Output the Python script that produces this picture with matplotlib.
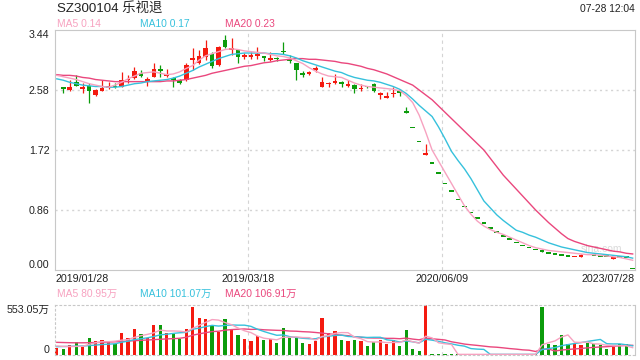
import numpy as np
import matplotlib
matplotlib.use('Agg')
import matplotlib.pyplot as plt

plt.rcParams['font.family'] = ['Liberation Sans', 'Noto Sans CJK SC', 'DejaVu Sans']

UP = '#f41a10'
DOWN = '#0c9c0c'
C_MA5 = '#f7a2c0'
C_MA10 = '#36c1dc'
C_MA20 = '#ea477d'
TXT = '#222222'
GRID = '#d4d4d4'
FRAME = '#c8c8c8'

# one entry per session, first one sits under the left frame in the original
opens = [2.58, 2.63, 2.58, 2.70, 2.60, 2.64, 2.51, 2.57, 2.61, 2.64,
         2.62, 2.72, 2.75, 2.83, 2.71, 2.77, 2.86, 2.78, 2.74, 2.72,
         2.72, 3.01, 2.96, 3.06, 3.10, 2.94, 3.30, 3.15, 3.16, 3.06,
         3.06, 3.07, 3.05, 3.01, 3.03, 3.13, 3.02, 2.96, 2.83, 2.81,
         2.87, 2.63, 2.66, 2.68, 2.70, 2.64, 2.65, 2.59, 2.63, 2.67,
         2.51, 2.47, 2.52, 2.57, 2.27, 2.03, 1.83, 1.65, 1.52, 1.38,
         1.23, 1.12, 1.00, 0.90, 0.81, 0.73, 0.66, 0.59, 0.53, 0.48,
         0.43, 0.38, 0.34, 0.31, 0.28, 0.27, 0.23, 0.215, 0.205, 0.19,
         0.18, 0.19, 0.22, 0.20, 0.19, 0.186, 0.16, 0.175, 0.175, 0.01]
highs = [2.64, 2.63, 2.73, 2.80, 2.68, 2.68, 2.60, 2.73, 2.69, 2.68,
         2.84, 2.80, 2.91, 2.87, 2.76, 2.96, 2.94, 2.88, 2.77, 2.74,
         2.96, 3.18, 3.15, 3.30, 3.13, 3.21, 3.37, 3.32, 3.17, 3.11,
         3.12, 3.19, 3.06, 3.13, 3.05, 3.27, 3.08, 2.97, 2.85, 2.85,
         2.92, 2.76, 2.70, 2.81, 2.71, 2.72, 2.66, 2.66, 2.64, 2.68,
         2.55, 2.55, 2.63, 2.58, 2.34, 2.03, 1.83, 1.80, 1.52, 1.38,
         1.23, 1.12, 1.00, 0.90, 0.81, 0.73, 0.66, 0.59, 0.53, 0.48,
         0.43, 0.38, 0.34, 0.31, 0.28, 0.30, 0.23, 0.215, 0.205, 0.19,
         0.19, 0.23, 0.22, 0.20, 0.19, 0.186, 0.17, 0.175, 0.175, 0.01]
lows = [2.57, 2.54, 2.57, 2.64, 2.54, 2.39, 2.50, 2.56, 2.60, 2.61,
        2.62, 2.68, 2.74, 2.76, 2.64, 2.77, 2.77, 2.77, 2.62, 2.67,
        2.71, 2.87, 2.95, 3.01, 2.90, 2.93, 3.18, 3.08, 2.96, 3.02,
        3.02, 3.03, 3.00, 2.99, 2.99, 3.10, 2.96, 2.73, 2.76, 2.80,
        2.84, 2.63, 2.63, 2.66, 2.62, 2.62, 2.53, 2.56, 2.61, 2.55,
        2.45, 2.47, 2.48, 2.49, 2.25, 2.03, 1.83, 1.65, 1.52, 1.38,
        1.23, 1.12, 1.00, 0.90, 0.81, 0.73, 0.66, 0.59, 0.53, 0.48,
        0.43, 0.38, 0.34, 0.31, 0.28, 0.26, 0.23, 0.215, 0.205, 0.19,
        0.18, 0.19, 0.21, 0.20, 0.19, 0.186, 0.16, 0.17, 0.17, 0.01]
closes = [2.62, 2.60, 2.63, 2.64, 2.63, 2.56, 2.58, 2.61, 2.62, 2.62,
          2.73, 2.73, 2.85, 2.78, 2.72, 2.88, 2.85, 2.80, 2.73, 2.68,
          2.94, 3.02, 3.07, 3.18, 2.92, 3.20, 3.19, 3.18, 3.05, 3.07,
          3.07, 3.08, 3.04, 3.02, 3.02, 3.12, 2.99, 2.87, 2.79, 2.83,
          2.88, 2.70, 2.67, 2.71, 2.66, 2.65, 2.60, 2.60, 2.62, 2.56,
          2.52, 2.48, 2.53, 2.53, 2.25, 2.03, 1.83, 1.67, 1.52, 1.38,
          1.23, 1.12, 1.00, 0.90, 0.81, 0.73, 0.66, 0.59, 0.53, 0.48,
          0.43, 0.38, 0.34, 0.31, 0.28, 0.26, 0.23, 0.215, 0.205, 0.19,
          0.19, 0.205, 0.21, 0.20, 0.19, 0.186, 0.17, 0.17, 0.17, 0.01]

ma5 = [2.79, 2.77, 2.75, 2.73, 2.70, 2.67, 2.65, 2.63, 2.62, 2.65,
       2.69, 2.74, 2.78, 2.82, 2.83, 2.84, 2.82, 2.80, 2.81, 2.84,
       2.89, 2.93, 3.01, 3.07, 3.10, 3.13, 3.16, 3.17, 3.16, 3.14,
       3.13, 3.12, 3.11, 3.09, 3.07, 3.06, 3.04, 3.00, 2.96, 2.90,
       2.85, 2.81, 2.78, 2.77, 2.76, 2.72, 2.68, 2.65, 2.63, 2.62,
       2.61, 2.60, 2.59, 2.57, 2.50, 2.40, 2.22, 1.98, 1.72, 1.56,
       1.40, 1.24, 1.08, 0.92, 0.80, 0.70, 0.63, 0.58, 0.54, 0.51,
       0.47, 0.43, 0.39, 0.35, 0.32, 0.30, 0.28, 0.27, 0.26, 0.25,
       0.24, 0.23, 0.22, 0.22, 0.21, 0.20, 0.19, 0.18, 0.16, 0.14]
ma10 = [2.74, 2.72, 2.69, 2.67, 2.65, 2.64, 2.63, 2.63, 2.62, 2.62,
        2.63, 2.65, 2.67, 2.68, 2.70, 2.71, 2.72, 2.73, 2.75, 2.78,
        2.82, 2.86, 2.91, 2.95, 2.99, 3.03, 3.06, 3.09, 3.10, 3.11,
        3.11, 3.11, 3.11, 3.10, 3.10, 3.09, 3.07, 3.04, 3.00, 2.97,
        2.94, 2.91, 2.88, 2.85, 2.83, 2.79, 2.76, 2.74, 2.72, 2.71,
        2.69, 2.66, 2.63, 2.59, 2.53, 2.45, 2.36, 2.28, 2.20, 2.05,
        1.88, 1.70, 1.57, 1.45, 1.31, 1.15, 0.99, 0.89, 0.79, 0.71,
        0.64, 0.57, 0.54, 0.50, 0.47, 0.43, 0.39, 0.36, 0.33, 0.31,
        0.29, 0.27, 0.25, 0.24, 0.23, 0.22, 0.21, 0.20, 0.19, 0.17]
ma20 = [2.80, 2.79, 2.79, 2.78, 2.76, 2.75, 2.73, 2.72, 2.71, 2.70,
        2.70, 2.70, 2.70, 2.70, 2.70, 2.70, 2.70, 2.71, 2.71, 2.72,
        2.73, 2.75, 2.77, 2.79, 2.82, 2.84, 2.86, 2.88, 2.90, 2.92,
        2.93, 2.95, 2.97, 2.98, 3.00, 3.01, 3.02, 3.03, 3.03, 3.02,
        3.02, 3.01, 3.00, 2.99, 2.97, 2.96, 2.94, 2.92, 2.89, 2.87,
        2.84, 2.81, 2.77, 2.73, 2.69, 2.65, 2.58, 2.51, 2.44, 2.35,
        2.26, 2.17, 2.08, 1.99, 1.90, 1.81, 1.72, 1.60, 1.48, 1.36,
        1.26, 1.16, 1.06, 0.96, 0.86, 0.77, 0.68, 0.60, 0.52, 0.45,
        0.41, 0.38, 0.35, 0.33, 0.31, 0.29, 0.27, 0.26, 0.24, 0.23]

# volume in 万 shares
volume = [74, 63, 111, 140, 92, 184, 155, 166, 140, 118,
          243, 184, 288, 232, 192, 332, 332, 240, 232, 181,
          288, 531, 409, 398, 332, 258, 398, 288, 221, 177,
          155, 210, 166, 177, 133, 299, 203, 195, 136, 125,
          159, 409, 240, 265, 166, 155, 166, 155, 100, 140,
          166, 125, 166, 100, 277, 66, 44, 553.05, 7, 7,
          7, 7, 7, 7, 7, 7, 7, 7, 7, 7,
          7, 7, 7, 7, 7, 535, 122, 111, 221, 122,
          129, 111, 136, 118, 111, 66, 92, 125, 118, 4]
vol_ma5 = [100, 95, 93, 95, 96, 118, 136, 147, 147, 153,
           164, 170, 195, 213, 228, 246, 275, 266, 266, 263,
           255, 294, 328, 361, 392, 386, 359, 335, 299, 268,
           248, 210, 186, 177, 168, 197, 196, 201, 193, 192,
           164, 205, 214, 240, 248, 247, 198, 181, 148, 143,
           145, 137, 139, 139, 167, 147, 131, 208, 189, 135,
           124, 116, 7, 7, 7, 7, 7, 7, 7, 7,
           7, 7, 7, 7, 7, 113, 136, 156, 199, 222,
           141, 139, 144, 123, 121, 108, 105, 102, 102, 81]
vol_ma10 = [92, 94, 96, 98, 100, 104, 110, 116, 120, 124,
            141, 153, 171, 180, 190, 205, 223, 230, 239, 246,
            250, 285, 297, 314, 328, 320, 327, 332, 330, 330,
            317, 285, 260, 238, 218, 222, 203, 194, 185, 180,
            180, 200, 208, 216, 220, 205, 202, 198, 194, 196,
            196, 168, 160, 144, 155, 146, 134, 174, 164, 151,
            135, 123, 108, 98, 71, 65, 62, 7, 7, 7,
            7, 7, 7, 7, 7, 60, 71, 82, 103, 115,
            127, 137, 150, 161, 172, 125, 122, 123, 113, 101]
vol_ma20 = [140, 138, 136, 135, 135, 136, 138, 140, 143, 146,
            150, 154, 158, 162, 166, 170, 174, 178, 181, 185,
            196, 219, 234, 247, 259, 263, 275, 281, 285, 288,
            283, 285, 279, 276, 273, 271, 265, 263, 258, 255,
            249, 242, 234, 227, 219, 214, 202, 196, 190, 188,
            188, 184, 184, 180, 187, 176, 168, 186, 179, 173,
            166, 146, 134, 121, 113, 106, 98, 90, 86, 79,
            71, 65, 57, 53, 39, 63, 66, 44, 55, 61,
            67, 72, 79, 84, 89, 92, 97, 102, 108, 107]

price_ticks = [0.00, 0.86, 1.72, 2.58, 3.44]
vol_top = 553.05
date_labels = ['2019/01/28', '2019/03/18', '2020/06/09', '2023/07/28']
title = 'SZ300104 乐视退'
stamp = '07-28 12:04'

W, H = 640, 360


def fx(x):
    return x / W


def fy(y):
    return 1 - y / H


o = np.array(opens)
c = np.array(closes)
prev = np.r_[c[0], c[:-1]]
up = (c > o) | ((c == o) & (c >= prev))
colors = np.where(up, UP, DOWN)
idx = np.arange(len(closes))

xlim = (-0.28, 89.36)

fig = plt.figure(figsize=(6.4, 3.6), dpi=100)
ax = fig.add_axes([fx(55), fy(270), 580 / W, 240 / H])
axv = fig.add_axes([fx(55), fy(355), 580 / W, 50 / H])

# price panel
k = idx[1:]
body_lo = np.minimum(o, c)[1:]
body_h = np.maximum(np.abs(c - o)[1:], 0.024)
ax.vlines(k, np.array(lows)[1:], np.array(highs)[1:], colors=colors[1:], lw=0.9, zorder=2)
ax.bar(k, body_h, bottom=body_lo, width=0.72, color=colors[1:], lw=0, zorder=3)
ax.plot(idx, ma20, color=C_MA20, lw=1.0, zorder=4)
ax.plot(idx, ma10, color=C_MA10, lw=1.0, zorder=4)
ax.plot(idx, ma5, color=C_MA5, lw=1.0, zorder=4)

ax.set_xlim(*xlim)
ax.set_ylim(0, 3.44)
ax.set_yticks(price_ticks)
ax.set_yticklabels([f'{v:.2f}' for v in price_ticks])
for v in price_ticks[1:-1]:
    ax.axhline(v, color=GRID, lw=1.0, ls=(0, (1.5, 2.5)), zorder=1)
span = xlim[1] - xlim[0]
xt = [xlim[0] + span * f for f in (0, 1 / 3, 2 / 3, 1)]
for x in xt[1:3]:
    ax.axvline(x, color=GRID, lw=0.8, ls=(0, (3, 3)), zorder=1)
ax.set_xticks(xt)
ax.set_xticklabels(date_labels)
ax.tick_params(length=0, labelsize=7.7, colors=TXT, pad=3)
ax.tick_params(axis='y', pad=4)
tl = ax.get_yticklabels()
tl[0].set_va('bottom')
tl[-1].set_va('top')
xl = ax.get_xticklabels()
xl[0].set_ha('left')
xl[-1].set_ha('right')
for s in ax.spines.values():
    s.set_color(FRAME)
    s.set_linewidth(0.8)
ax.text(0.943, 0.088, 'sina.com', transform=ax.transAxes, ha='center', va='center',
        fontsize=7.5, color='#dadada', zorder=0)

# volume panel
axv.bar(idx, volume, width=0.5, color=colors, lw=0, zorder=2)
axv.plot(idx, vol_ma20, color=C_MA20, lw=1.0, zorder=3)
axv.plot(idx, vol_ma10, color=C_MA10, lw=1.0, zorder=3)
axv.plot(idx, vol_ma5, color=C_MA5, lw=1.0, zorder=3)
axv.set_xlim(*xlim)
axv.set_ylim(0, vol_top)
axv.set_yticks([0, vol_top])
axv.set_yticklabels(['0', f'{vol_top:.2f}万'])
axv.set_xticks([])
for x in xt[1:3]:
    axv.axvline(x, color=GRID, lw=0.8, ls=(0, (3, 3)), zorder=1)
axv.tick_params(length=0, labelsize=7.7, colors=TXT, pad=4)
vl = axv.get_yticklabels()
vl[0].set_va('bottom')
vl[1].set_va('top')
for name, s in axv.spines.items():
    s.set_color(FRAME)
    s.set_linewidth(0.8)
    if name != 'right':
        s.set_linestyle((0, (1.5, 2.5)))

# header texts
fig.text(fx(57), fy(9), title, fontsize=9.6, color=TXT, ha='left', va='center')
fig.text(fx(635), fy(9), stamp, fontsize=7.4, color=TXT, ha='right', va='center')
legend = [(57, f'MA5 {ma5[-1]:.2f}', C_MA5), (140, f'MA10 {ma10[-1]:.2f}', C_MA10),
          (225, f'MA20 {ma20[-1]:.2f}', C_MA20)]
for x, s, col in legend:
    fig.text(fx(x), fy(24), s, fontsize=7.4, color=col, ha='left', va='center')
vlegend = [(57, 'MA5 80.95万', C_MA5), (140, 'MA10 101.07万', C_MA10),
           (225, 'MA20 106.91万', C_MA20)]
for x, s, col in vlegend:
    fig.text(fx(x), fy(294), s, fontsize=7.4, color=col, ha='left', va='center')

fig.savefig('out.png', dpi=100, facecolor='white')
